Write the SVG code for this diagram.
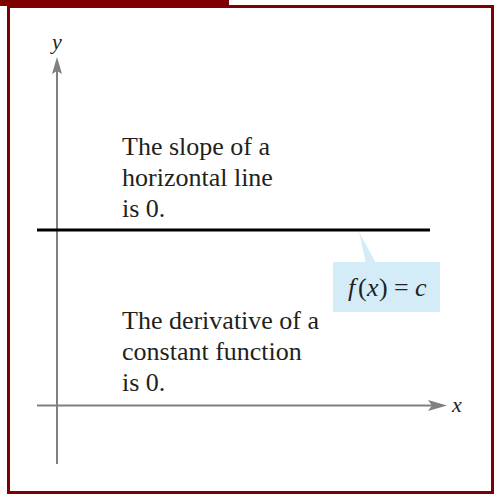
<svg xmlns="http://www.w3.org/2000/svg" width="494" height="494" viewBox="0 0 494 494">
<style>
.frame{fill:none;stroke:#7f0000;stroke-width:3}
.axis{stroke:#808080;stroke-width:2;fill:none}
.head{fill:#808080}
.t{font-family:"Liberation Serif","Times New Roman",serif;font-size:26px;fill:#231f20}
.i{font-style:italic}
</style>
<rect x="0" y="0" width="494" height="494" fill="#ffffff"/>
<g id="frame">
<rect x="0" y="0" width="229" height="6" fill="#7f0000"/>
<rect class="frame" x="8.5" y="6.5" width="484" height="486"/>
</g>
<g id="connectors">
<line class="axis" x1="57" y1="68" x2="57" y2="464"/>
<path class="head" d="M57,57 L62,74 L57,71 L52,74 Z"/>
<line class="axis" x1="37" y1="405.5" x2="436" y2="405.5"/>
<path class="head" d="M447,405.5 L428,400 L432,405.5 L428,411 Z"/>
</g>
<g id="axis-labels">
<text class="t i" x="52" y="49" style="font-size:22px">y</text>
<text class="t i" x="452" y="412" style="font-size:22px">x</text>
</g>
<g id="line">
<line x1="37" y1="230" x2="430" y2="230" stroke="#000" stroke-width="3"/>
</g>
<g id="callout">
<path d="M359,232 L366,263 L376,263 Z" fill="#d3ecf8"/>
<rect x="333" y="262" width="107" height="50" fill="#d3ecf8"/>
<text class="t" y="296"><tspan class="i" x="348">f</tspan><tspan x="358">(</tspan><tspan class="i" x="367">x</tspan><tspan x="379">)</tspan><tspan x="394">=</tspan><tspan class="i" x="415">c</tspan></text>
</g>
<g id="text-slope">
<text class="t" x="122" y="155">The slope of a</text>
<text class="t" x="122" y="186">horizontal line</text>
<text class="t" x="122" y="217">is 0.</text>
</g>
<g id="text-derivative">
<text class="t" x="122" y="329">The derivative of a</text>
<text class="t" x="122" y="360">constant function</text>
<text class="t" x="122" y="391">is 0.</text>
</g>
</svg>
